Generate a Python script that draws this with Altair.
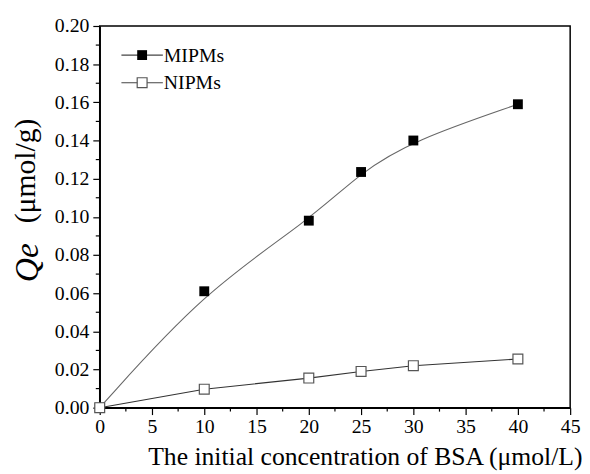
import altair as alt
import pandas as pd

conc = [0, 10, 20, 25, 30, 40]
mipms = [0.0, 0.061, 0.098, 0.1235, 0.140, 0.159]
nipms = [0.0, 0.0097, 0.0155, 0.019, 0.022, 0.0255]

x_major = [0, 5, 10, 15, 20, 25, 30, 35, 40, 45]
x_minor = [2.5, 7.5, 12.5, 17.5, 22.5, 27.5, 32.5, 37.5, 42.5]
y_major = [0.0, 0.02, 0.04, 0.06, 0.08, 0.10, 0.12, 0.14, 0.16, 0.18, 0.20]
y_minor = [0.01, 0.03, 0.05, 0.07, 0.09, 0.11, 0.13, 0.15, 0.17, 0.19]

FONT = "Liberation Serif"

df_m = pd.DataFrame({"x": conc, "y": mipms})
df_n = pd.DataFrame({"x": conc, "y": nipms})
df_xmin = pd.DataFrame({"x": x_minor})
df_ymin = pd.DataFrame({"y": y_minor})
one = pd.DataFrame({"a": [0]})

xscale = alt.Scale(domain=[0, 45], nice=False, zero=False)
yscale = alt.Scale(domain=[0, 0.2], nice=False, zero=False)

common = dict(
    labelFont=FONT, labelFontSize=20, labelColor="black",
    labelFlush=False, labelOverlap=False,
    domainColor="black", domainWidth=1.5, tickColor="black", tickWidth=1.2,
    grid=False,
)

xaxis = alt.Axis(
    values=x_major,
    tickSize=7,
    labelPadding=2,
    title="The initial concentration of BSA (μmol/L)",
    titleFont=FONT, titleFontWeight="normal", titleColor="black",
    titleFontSize=26,
    titleX=489, titleY=58, titleAlign="right", titleBaseline="alphabetic",
    **common,
)
yaxis = alt.Axis(
    values=y_major,
    format=".2f",
    tickSize=7,
    labelPadding=4,
    title=None,
    **common,
)

line_m = alt.Chart(df_m).mark_line(color="#666666", strokeWidth=1.1, interpolate="basis").encode(
    x=alt.X("x:Q", scale=xscale, axis=xaxis),
    y=alt.Y("y:Q", scale=yscale, axis=yaxis),
)
line_n = alt.Chart(df_n).mark_line(color="#333333", strokeWidth=1.1).encode(
    x=alt.X("x:Q", scale=xscale, axis=xaxis),
    y=alt.Y("y:Q", scale=yscale, axis=yaxis),
)
pts_m = alt.Chart(df_m).mark_point(shape="square", filled=True, color="black", size=100, opacity=1).encode(
    x=alt.X("x:Q", scale=xscale, axis=xaxis),
    y=alt.Y("y:Q", scale=yscale, axis=yaxis),
)
pts_n = alt.Chart(df_n).mark_point(shape="square", filled=True, fill="white", stroke="#555555",
                                   strokeWidth=1.2, size=100, opacity=1).encode(
    x=alt.X("x:Q", scale=xscale, axis=xaxis),
    y=alt.Y("y:Q", scale=yscale, axis=yaxis),
)

# minor ticks
xminor = alt.Chart(df_xmin).mark_rule(color="black", strokeWidth=1.2).encode(
    x=alt.X("x:Q", scale=xscale, axis=xaxis), y=alt.value(387), y2=alt.value(391))
yminor = alt.Chart(df_ymin).mark_rule(color="black", strokeWidth=1.2).encode(
    y=alt.Y("y:Q", scale=yscale, axis=yaxis), x=alt.value(0), x2=alt.value(-4))

# legend
leg_rule_m = alt.Chart(one).mark_rule(color="#444444", strokeWidth=1.1).encode(
    x=alt.value(22), x2=alt.value(64), y=alt.value(29.5))
leg_rule_n = alt.Chart(one).mark_rule(color="#444444", strokeWidth=1.1).encode(
    x=alt.value(22), x2=alt.value(64), y=alt.value(57.5))
leg_pt_m = alt.Chart(one).mark_point(shape="square", filled=True, color="black", size=100, opacity=1).encode(
    x=alt.value(43), y=alt.value(29.5))
leg_pt_n = alt.Chart(one).mark_point(shape="square", filled=True, fill="white", stroke="#555555",
                                     strokeWidth=1.2, size=100, opacity=1).encode(
    x=alt.value(43), y=alt.value(57.5))
leg_txt_m = alt.Chart(one).mark_text(font=FONT, fontSize=20, align="left", baseline="middle", color="black").encode(
    x=alt.value(65), y=alt.value(30), text=alt.value("MIPMs"))
leg_txt_n = alt.Chart(one).mark_text(font=FONT, fontSize=20, align="left", baseline="middle", color="black").encode(
    x=alt.value(65), y=alt.value(58), text=alt.value("NIPMs"))

# y title
ytitle_unit = alt.Chart(one).mark_text(font=FONT, fontSize=30, angle=270, align="center",
                                       baseline="middle", color="black").encode(
    x=alt.value(-75), y=alt.value(147), text=alt.value("(μmol/g)"))
ytitle_qe = alt.Chart(one).mark_text(font=FONT, fontSize=34, fontStyle="italic", angle=270, align="center",
                                     baseline="middle", color="black").encode(
    x=alt.value(-73), y=alt.value(240), text=alt.value("Qe"))

chart = alt.layer(
    line_m, line_n, xminor, yminor, pts_m, pts_n,
    leg_rule_m, leg_rule_n, leg_pt_m, leg_pt_n, leg_txt_m, leg_txt_n,
    ytitle_unit, ytitle_qe,
).properties(
    width=477, height=387,
    background="white",
    autosize=alt.AutoSizeParams(type="none"),
    padding={"left": 93, "top": 15, "right": 12, "bottom": 64},
).configure_view(
    stroke="black", strokeWidth=1.5
).configure_axis(
    labelFont=FONT, labelFontSize=20, labelColor="black",
    titleFont=FONT, titleFontWeight="normal", titleColor="black",
)

chart.save("out.html", embed_options={"renderer": "svg", "actions": False})
